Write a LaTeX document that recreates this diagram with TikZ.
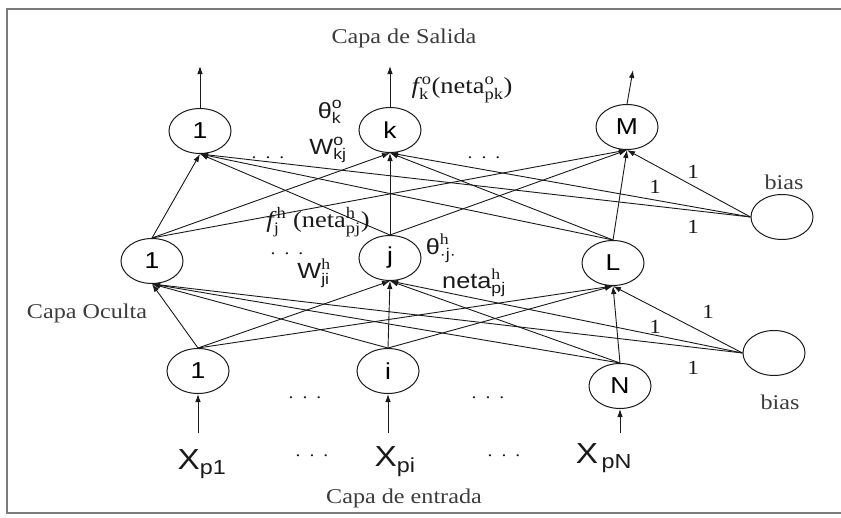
\documentclass[tikz,border=0pt]{standalone}
\usepackage{amsmath}
\usepackage{fontspec}
\setmainfont[FakeStretch=1.15]{Liberation Serif}
\setsansfont[FakeStretch=1.15]{Liberation Sans}
\usetikzlibrary{shapes.geometric,arrows.meta}
\definecolor{frame}{HTML}{7a7a7a}
\definecolor{ink}{HTML}{1a1a1a}

\begin{document}
\begin{tikzpicture}[x=1pt,y=-1pt,
  neuron/.style={draw=ink,line width=1pt,ellipse,minimum width=62pt,minimum height=45pt,inner sep=0pt,font=\sffamily\fontsize{23}{26}\selectfont},
  conn/.style={ink,line width=0.9pt,-{Latex[length=8pt,width=5.5pt]}},
  layer/.style={font=\rmfamily\fontsize{21}{24}\selectfont,text=ink!85},
  wlabel/.style={font=\rmfamily\fontsize{20}{22}\selectfont,text=ink},
  mlabel/.style={font=\sffamily\fontsize{22}{24}\selectfont,text=ink,inner sep=0pt},
  flabel/.style={font=\rmfamily\fontsize{23}{26}\selectfont,text=ink,inner sep=0pt},
  xlabel/.style={font=\sffamily\fontsize{29}{32}\selectfont,text=ink,inner sep=0pt},
  dots/.style={font=\rmfamily\fontsize{17}{20}\selectfont,text=ink,anchor=base,inner sep=0pt}]
  \useasboundingbox (0,0) rectangle (841,517);
  \fill[white] (0,0) rectangle (841,517);

  % frame of the figure
  \draw[frame,line width=2.5pt] (841,9) -- (7,9) -- (7,513) -- (841,513);

  % Output layer
  \node[neuron] (o1) at (200,131) {1};
  \node[neuron] (ok) at (390,130) {k};
  \node[neuron] (oM) at (627,127) {M};

  % Hidden layer
  \node[neuron] (h1) at (152,261) {1};
  \node[neuron] (hj) at (390,258) {j};
  \node[neuron] (hL) at (613,263) {L};

  % Input layer
  \node[neuron] (i1) at (198,371) {1};
  \node[neuron] (ii) at (388,371) {i};
  \node[neuron] (iN) at (620,386) {N};

  % Bias units
  \node[neuron] (bo) at (782,217) {};
  \node[neuron] (bh) at (774,353) {};

  % Layer names
  \node[layer] (tout) at (404,38) {Capa de Salida};
  \node[layer] (thid) at (87,313) {Capa Oculta};
  \node[layer] (tin) at (404,498) {Capa de entrada};
  \node[layer] (tbo) at (784,182) {bias};
  \node[layer] (tbh) at (780,402) {bias};

  % Input -> hidden
  \foreach \s in {i1,ii,iN}
    \foreach \t in {h1,hj,hL}
      \draw[conn] (\s.north) -- (\t.south);
  \foreach \t in {h1,hj,hL}
    \draw[conn] (bh.west) -- (\t.south);

  % Hidden -> output
  \foreach \s in {h1,hj,hL}
    \foreach \t in {o1,ok,oM}
      \draw[conn] (\s.north) -- (\t.south);
  \foreach \t in {o1,ok,oM}
    \draw[conn] (bo.west) -- (\t.south);

  % Inputs and outputs
  \coordinate (y1) at (200,66);
  \coordinate (yk) at (390,66);
  \coordinate (yM) at (633,70);
  \draw[conn] (o1.north) -- (y1);
  \draw[conn] (ok.north) -- (yk);
  \draw[conn] (oM.north) -- (yM);

  \coordinate (x1) at (198,433);
  \coordinate (xi) at (388,433);
  \coordinate (xN) at (620,433);
  \draw[conn] (x1) -- (i1.south);
  \draw[conn] (xi) -- (ii.south);
  \draw[conn] (xN) -- (iN.south);

  \node[xlabel] (xp1) at (202,464) {$\text{X}_{\text{p1}}$};
  \node[xlabel] (xpi) at (395,462) {$\text{X}_{\text{pi}}$};
  \node[xlabel] (xpN) at (604,458) {$\text{X}_{\,\text{pN}}$};

  % Bias weights
  \node[wlabel] (w1) at (693,172) {1};
  \node[wlabel] (w2) at (655,187) {1};
  \node[wlabel] (w3) at (693,227) {1};
  \node[wlabel] (w4) at (708,312) {1};
  \node[wlabel] (w5) at (655,327) {1};
  \node[wlabel] (w6) at (693,368) {1};

  % Ellipses
  \node[dots] (d1) at (268,158) {.\hspace{9pt}.\hspace{9pt}.};
  \node[dots] (d2) at (484,158) {.\hspace{9pt}.\hspace{9pt}.};
  \node[dots] (d3) at (287,254) {.\hspace{9pt}.\hspace{9pt}.};
  \node[dots] (d4) at (305,398) {.\hspace{9pt}.\hspace{9pt}.};
  \node[dots] (d5) at (488,398) {.\hspace{9pt}.\hspace{9pt}.};
  \node[dots] (d6) at (312,456) {.\hspace{9pt}.\hspace{9pt}.};
  \node[dots] (d7) at (504,456) {.\hspace{9pt}.\hspace{9pt}.};

  % Output layer quantities
  \node[mlabel] (thk) at (330,112) {$\text{θ}^{\text{o}}_{\text{k}}$};
  \node[mlabel] (wkj) at (328,150) {$\text{W}^{\text{o}}_{\text{kj}}$};
  \node[flabel] (fk) at (462,90) {$\textit{f}^{\,\text{o}}_{\text{k}}\text{(neta}^{\text{o}}_{\text{pk}}\text{)}$};

  % Hidden layer quantities
  \node[flabel] (fj) at (318,222) {$\textit{f}^{\,\text{h}}_{\text{j}}\ \text{(neta}^{\text{h}}_{\text{pj}}\text{)}$};
  \node[mlabel] (wji) at (314,273) {$\text{W}^{\textrm{h}}_{\text{ji}}$};
  \node[mlabel] (thj) at (441,248) {$\text{θ}^{\textrm{h}}_{\text{·j·}}$};
  \node[mlabel] (nj) at (474,283) {$\text{neta}^{\textrm{h}}_{\text{pj}}$};
\end{tikzpicture}
\end{document}
